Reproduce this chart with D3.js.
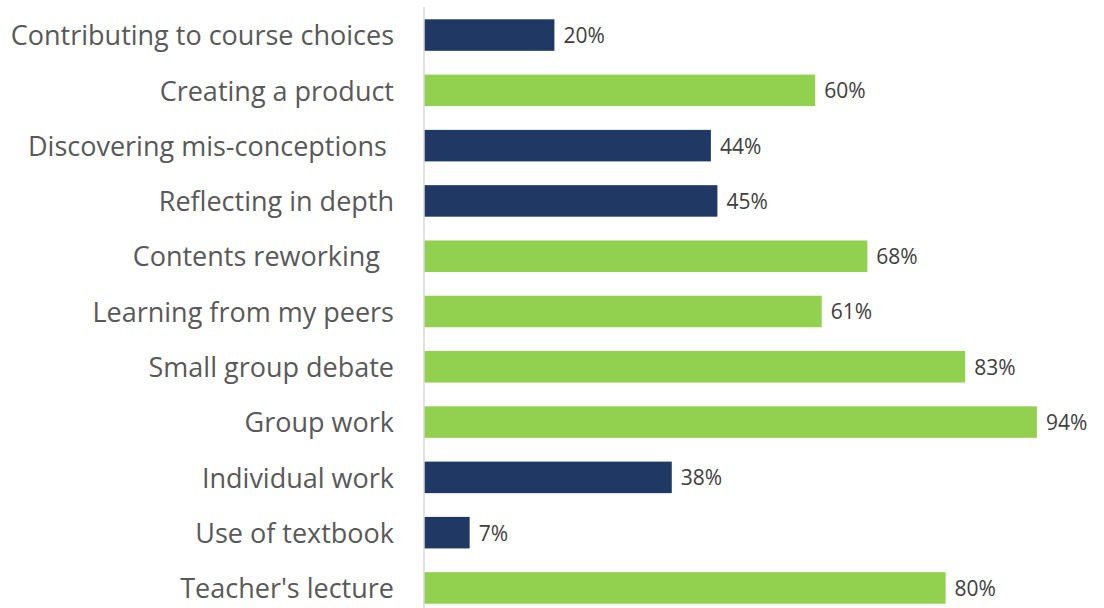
<!DOCTYPE html>
<html>
<head>
<meta charset="utf-8">
<script src="https://cdn.jsdelivr.net/npm/d3@7"></script>
<style>
  html, body { margin: 0; padding: 0; background: #ffffff; }
  svg { display: block; }
  text { white-space: pre; }
</style>
</head>
<body>
<svg id="chart" width="1104" height="608"></svg>
<script>
// Activity categories, top to bottom (trailing spaces kept as typed)
const categories = [
  "Contributing to course choices",
  "Creating a product",
  "Discovering mis-conceptions ",
  "Reflecting in depth",
  "Contents reworking  ",
  "Learning from my peers",
  "Small group debate",
  "Group work",
  "Individual work",
  "Use of textbook",
  "Teacher's lecture"
];
// Share of respondents (percent)
const values = [20, 60, 44, 45, 68, 61, 83, 94, 38, 7, 80];
// Highlight group: "high" bars drawn in green, "low" in navy
const groups = ["low", "high", "low", "low", "high", "high", "high", "high", "low", "low", "high"];

const colors = { low: "#203864", high: "#92D050" };
const font = "'Open Sans', 'Noto Sans', sans-serif";

const svg = d3.select("#chart");
const x0 = 424;

const x = d3.scaleLinear().domain([0, 100]).range([x0, x0 + 652]);
const y = d3.scaleBand().domain(categories).range([7.4, 615.6]).paddingInner(0.43).paddingOuter(0.215);

const rows = categories.map((c, i) => ({ c, v: values[i], g: groups[i] }));

// bars
svg.append("g").selectAll("rect").data(rows).join("rect")
  .attr("x", x(0))
  .attr("y", d => y(d.c))
  .attr("width", d => x(d.v) - x(0))
  .attr("height", y.bandwidth())
  .attr("fill", d => colors[d.g]);

// category axis
const axis = svg.append("g")
  .attr("transform", `translate(${x0},0)`)
  .call(d3.axisLeft(y).tickSize(0).tickPadding(30));
axis.select(".domain").attr("stroke", "#d9d9d9").attr("stroke-width", 1.5)
  .attr("d", "M0,7V608");
axis.selectAll("text")
  .attr("font-family", font)
  .attr("font-size", 27)
  .attr("dy", "0.38em")
  .attr("fill", "#595959");

// value labels
svg.append("g").selectAll("text").data(rows).join("text")
  .attr("x", d => x(d.v) + 9)
  .attr("y", d => y(d.c) + y.bandwidth() / 2)
  .attr("dy", "0.38em")
  .attr("font-family", font)
  .attr("font-size", 21)
  .attr("fill", "#404040")
  .text(d => d.v + "%");
</script>
</body>
</html>
